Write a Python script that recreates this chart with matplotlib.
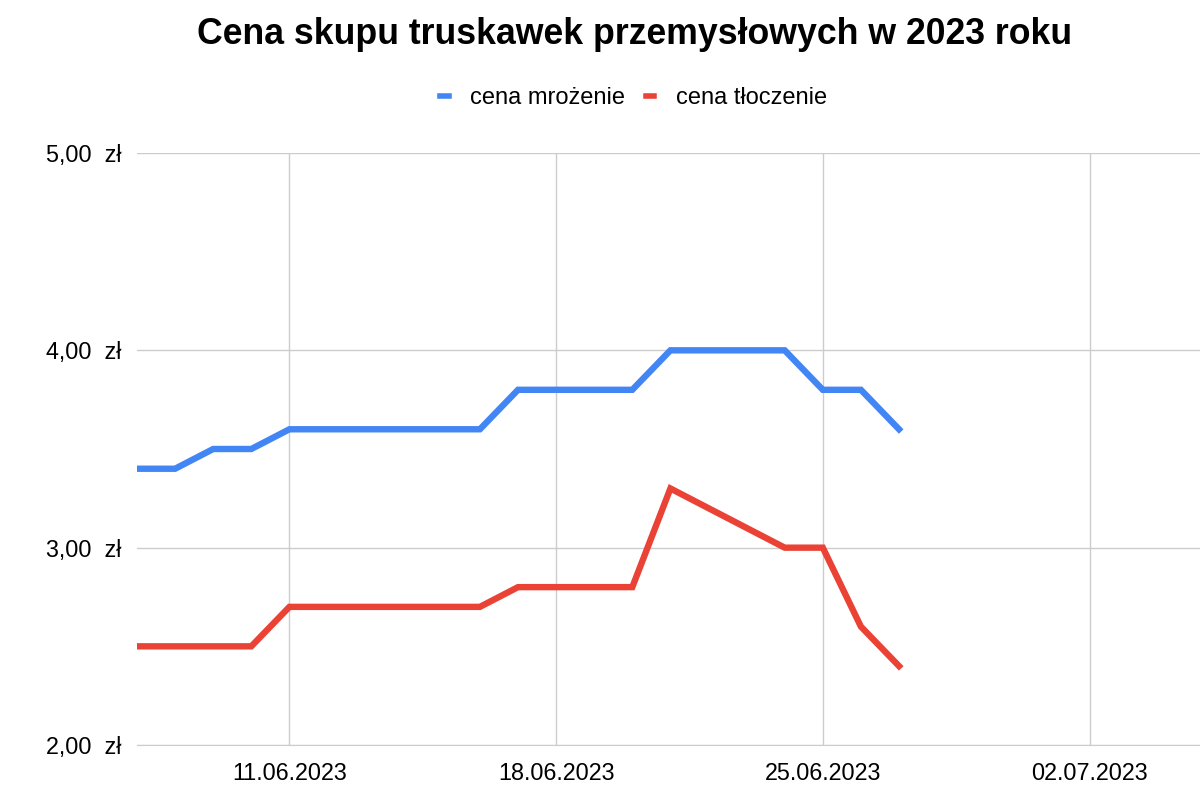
import matplotlib
matplotlib.use('Agg')
import matplotlib.pyplot as plt
import matplotlib.dates as mdates
import datetime as dt

plt.rcParams['font.family'] = ['Liberation Sans', 'DejaVu Sans']

# Daily readings, 07.06.2023 - 27.06.2023
days = [dt.date(2023, 6, d) for d in range(7, 28)]
cena_mrozenie = [3.4, 3.4, 3.5, 3.5, 3.6, 3.6, 3.6, 3.6, 3.6, 3.6, 3.8,
                 3.8, 3.8, 3.8, 4.0, 4.0, 4.0, 4.0, 3.8, 3.8, 3.6]
cena_tloczenie = [2.5, 2.5, 2.5, 2.5, 2.7, 2.7, 2.7, 2.7, 2.7, 2.7, 2.8,
                  2.8, 2.8, 2.8, 3.3, 3.2, 3.1, 3.0, 3.0, 2.6, 2.4]
tick_dates = [dt.date(2023, 6, 11), dt.date(2023, 6, 18),
              dt.date(2023, 6, 25), dt.date(2023, 7, 2)]
y_ticks = [2, 3, 4, 5]

fig = plt.figure(figsize=(12, 8), dpi=100)
ax = fig.add_axes([137 / 1200, 1 - 745 / 800, 1 - 137 / 1200, (745 - 153) / 800])

ax.plot(days, cena_mrozenie, color='#4285F4', linewidth=4.6, label='cena mrożenie',
        solid_joinstyle='miter')
ax.plot(days, cena_tloczenie, color='#EA4335', linewidth=4.6, label='cena tłoczenie',
        solid_joinstyle='miter')

start = dt.datetime(2023, 6, 7)
ax.set_xlim(start, start + dt.timedelta(days=27.9))
ax.set_ylim(2, 5)
ax.set_xticks(tick_dates)
ax.xaxis.set_major_formatter(mdates.DateFormatter('%d.%m.%Y'))
ax.set_yticks(y_ticks)
ax.set_yticklabels([f'{v:.2f}'.replace('.', ',') + '  zł' for v in y_ticks])

ax.grid(True, color='#cccccc', linewidth=1)
ax.set_axisbelow(True)
for s in ['top', 'right', 'left']:
    ax.spines[s].set_visible(False)
ax.spines['bottom'].set_color('#cccccc')
ax.tick_params(length=0, labelsize=16.8, colors='black')
ax.tick_params(axis='y', pad=11)
ax.tick_params(axis='x', pad=12)

fig.text(0.529, 0.957, 'Cena skupu truskawek przemysłowych w 2023 roku',
         ha='center', va='center', fontsize=25.7, fontweight='bold')
leg = fig.legend(loc='center', bbox_to_anchor=(0.528, 0.877), ncol=2, frameon=False,
                 fontsize=17, handlelength=0.35, handletextpad=0.9, columnspacing=0.9)
for h in leg.get_lines():
    h.set_linewidth(4)

fig.savefig('out.png', dpi=100)
